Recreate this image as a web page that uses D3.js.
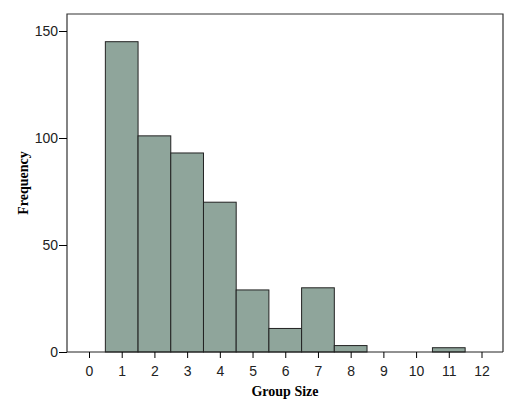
<!DOCTYPE html>
<html><head><meta charset="utf-8">
<script src="https://cdn.jsdelivr.net/npm/d3@7"></script>
<style>body{margin:0;background:#fff}</style></head>
<body><script>
const groupSizes = [1, 2, 3, 4, 5, 6, 7, 8, 9, 10, 11, 12];
const frequencies = [145, 101, 93, 70, 29, 11, 30, 3, 0, 0, 2, 0];
const xTicks = [0,1,2,3,4,5,6,7,8,9,10,11,12];
const yTicks = [0, 50, 100, 150];

const width = 512, height = 409;
const mLeft = 67, mRight = 503, mTop = 14, mBottom = 352;

const svg = d3.select("body").append("svg").attr("width", width).attr("height", height)
    .style("font-family", "'Liberation Serif', serif");

const x = d3.scaleLinear().domain([0, 12]).range([89, 481.5]);
const y = d3.scaleLinear().domain([0, 150]).range([mBottom, 31]);
const bw = x(1) - x(0);

// frame
svg.append("path")
    .attr("d", `M${mLeft},${mBottom}V${mTop}H${mRight}V${mBottom}`)
    .attr("fill", "none").attr("stroke", "#333").attr("stroke-width", 1.2);

svg.append("g").selectAll("rect")
    .data(groupSizes.map((g, i) => ({g, f: frequencies[i]})).filter(d => d.f > 0))
    .enter().append("rect")
    .attr("x", d => x(d.g) - bw / 2)
    .attr("y", d => y(d.f))
    .attr("width", bw)
    .attr("height", d => y(0) - y(d.f))
    .attr("fill", "#8fa59b")
    .attr("stroke", "#222").attr("stroke-width", 1);

const xAxis = svg.append("g").attr("transform", `translate(0,${mBottom})`)
    .call(d3.axisBottom(x).tickValues(xTicks).tickFormat(d3.format("d")).tickSize(6).tickSizeOuter(0));
xAxis.select(".domain").attr("d", `M${mLeft},0H${mRight}`).attr("stroke", "#222");
xAxis.selectAll("text").style("font-size", "14px").attr("fill", "#222").attr("dy", "1.1em");

const yAxis = svg.append("g").attr("transform", `translate(${mLeft},0)`)
    .call(d3.axisLeft(y).tickValues(yTicks).tickSize(8).tickSizeOuter(0));
yAxis.select(".domain").remove();
yAxis.selectAll("text").style("font-size", "14px").attr("fill", "#222").attr("x", -9);

svg.append("text").attr("x", (mLeft + mRight) / 2).attr("y", 396)
    .attr("text-anchor", "middle").style("font-size", "14px").style("font-weight", "bold")
    .text("Group Size");
svg.append("text").attr("transform", `translate(28,${(mTop + mBottom) / 2}) rotate(-90)`)
    .attr("text-anchor", "middle").style("font-size", "14px").style("font-weight", "bold")
    .text("Frequency");
</script></body></html>
